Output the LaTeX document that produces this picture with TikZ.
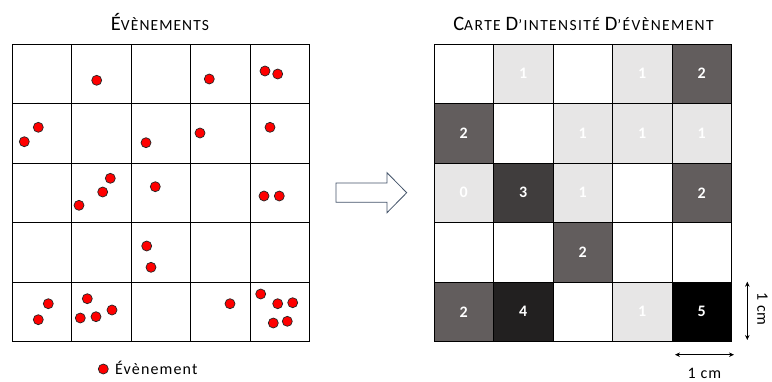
\documentclass[tikz,border=0pt]{standalone}
\usepackage{fontspec}
\setmainfont{Carlito}
\newfontfamily\widefont{Carlito}[LetterSpace=7]
\newfontfamily\widerfont{Carlito}[LetterSpace=9]
\usetikzlibrary{arrows.meta}
\definecolor{lg}{HTML}{E7E6E6}
\definecolor{dg}{HTML}{625D5D}
\definecolor{gthree}{HTML}{403D3D}
\definecolor{gfour}{HTML}{222020}
\definecolor{arrowc}{HTML}{44546A}
\definecolor{dotred}{HTML}{FF0000}
\newcommand{\bigc}[1]{{\fontsize{20.5}{20.5}\selectfont #1}}
\newcommand{\smc}[1]{{\fontsize{15.5}{15.5}\selectfont #1}}
\begin{document}
\begin{tikzpicture}[x=1pt,y=-1pt,
  cellbox/.style={draw=black, line width=0.8pt, minimum size=59.5pt, inner sep=0pt, outer sep=0pt, text=white, font=\fontsize{16}{16}\selectfont\bfseries},
  dot/.style={circle, fill=dotred, draw=black!85, line width=0.7pt, minimum size=10pt, inner sep=0pt},
  scalearrow/.style={line width=0.7pt, {Stealth[length=5pt,width=4.5pt]}-{Stealth[length=5pt,width=4.5pt]}},
  lbl/.style={inner sep=0pt, font=\widefont\fontsize{16}{16}\selectfont},
  ttl/.style={inner sep=0pt, anchor=base, font=\widefont}]
\useasboundingbox (0,0) rectangle (772,381);
\fill[white] (0,0) rectangle (772,381);
% titles
\node[ttl] (t1) at (160,30) {\bigc{É}\smc{VÈNEMENTS}};
\node[ttl, font=\widerfont] (t2) at (583.5,30) {\bigc{C}\smc{ARTE }\bigc{D}\smc{’INTENSITÉ }\bigc{D}\smc{’ÉVÈNEMENT}};
% left grid
\foreach \r in {1,...,5}
  \foreach \c in {1,...,5}
    \node[cellbox] (L\r\c) at ({12+59.5*(\c-0.5)},{44+59.5*(\r-0.5)}) {};
% right grid
\foreach \r/\c/\col/\t in {1/1/white/,1/2/lg/1,1/3/white/,1/4/lg/1,1/5/dg/2,
  2/1/dg/2,2/2/white/,2/3/lg/1,2/4/lg/1,2/5/lg/1,
  3/1/lg/0,3/2/gthree/3,3/3/lg/1,3/4/white/,3/5/dg/2,
  4/1/white/,4/2/white/,4/3/dg/2,4/4/white/,4/5/white/,
  5/1/dg/2,5/2/gfour/4,5/3/white/,5/4/lg/1,5/5/black/5}
  \node[cellbox, fill=\col] (R\r\c) at ({434+59.5*(\c-0.5)},{44+59.5*(\r-0.5)}) {\t};
% events
\foreach \x/\y [count=\i] in {96.7/80.3, 209.3/79, 265/71, 277.7/74,
  38.3/127.3, 24.3/141.7, 146/142.7, 200/133, 270/127.3,
  110.3/178.3, 102.7/192, 79/205.3, 155.3/186.7, 264/196, 279.3/196,
  146.7/246, 151/267.3,
  48.3/303.7, 38.3/319.7, 87.3/298.7, 112/310, 96/316.7, 80.3/318,
  230/303.7, 260.7/294, 277.7/303.7, 292.7/302.7, 273.3/323, 287.3/321.3}
  \node[dot] (e\i) at (\x,\y) {};
% legend
\node[dot] (ld) at (103.3,369) {};
\node[lbl, anchor=base west] (lt) at (115,374.5) {Évènement};
% block arrow
\draw[arrowc, fill=white, line width=0.8pt, line join=miter] (336,183) -- (387,183) -- (387,172.7) -- (406.7,192.7) -- (387,212.7) -- (387,202.3) -- (336,202.3) -- cycle;
% scale bars
\coordinate (va) at (747.3,281.7);
\coordinate (vb) at (747.3,340);
\draw[scalearrow] (va) -- (vb);
\node[lbl, rotate=-90] (vl) at (762.5,309) {1 cm};
\coordinate (ha) at (675,354.7);
\coordinate (hb) at (734,354.7);
\draw[scalearrow] (ha) -- (hb);
\node[lbl, anchor=base] (hl) at (704.5,378) {1 cm};
\end{tikzpicture}
\end{document}
